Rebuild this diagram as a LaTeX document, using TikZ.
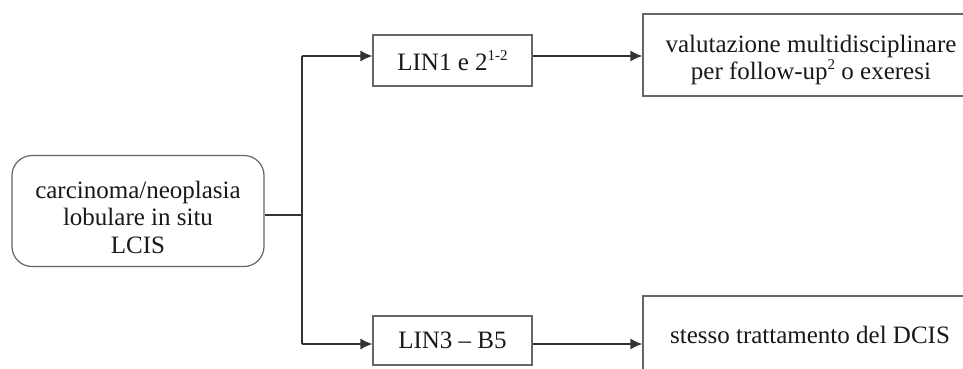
\documentclass[tikz,border=0pt]{standalone}
\usepackage{fontspec}
\setmainfont{Liberation Serif}
\usetikzlibrary{arrows.meta}
\newcommand{\mysup}[1]{\raisebox{0.42em}{\fontsize{15}{15}\selectfont #1}}
\begin{document}
\begin{tikzpicture}[x=1pt,y=-1pt,
  every node/.style={font=\fontsize{25}{27.5}\selectfont, text=black!90, align=center, inner sep=0pt},
  boxst/.style={draw=black!60, line width=1.2pt},
  conn/.style={draw=black!80, line width=1.3pt},
  arr/.style={conn, -{Latex[length=12pt,width=11pt]}}]
\useasboundingbox (0,0) rectangle (963,369);
\fill[white] (0,0) rectangle (963,369);
\node[boxst, rounded corners=20pt, minimum width=252pt, minimum height=111pt] (src) at (138,211) {};
\node (srct) at (138,217) {carcinoma/neoplasia\\lobulare in situ\\LCIS};
\node[boxst, minimum width=159pt, minimum height=51pt] (lin1) at (452.5,60.5) {LIN1 e 2\mysup{1-2}};
\node[boxst, minimum width=159pt, minimum height=49pt] (lin3) at (452.5,340.5) {LIN3 -- B5};
\node[boxst, minimum width=340pt, minimum height=82pt] (out1) at (813,55) {};
\node (out1t) at (811,60) {valutazione multidisciplinare\\per follow-up\mysup{2} o exeresi};
\node[boxst, minimum width=340pt, minimum height=78pt] (out3) at (813,335) {};
\node (out3t) at (810,335) {stesso trattamento del DCIS};
\coordinate (jm) at (302,215);
\coordinate (j1) at (302,56);
\coordinate (j3) at (302,344);
\draw[conn] (src.east |- jm) -- (jm);
\draw[conn] (j1) -- (j3);
\draw[arr] (j1) -- (j1 -| lin1.west);
\draw[arr] (j3) -- (j3 -| lin3.west);
\draw[arr] (lin1.east |- j1) -- (j1 -| out1.west);
\draw[arr] (lin3.east |- j3) -- (j3 -| out3.west);
\end{tikzpicture}
\end{document}
